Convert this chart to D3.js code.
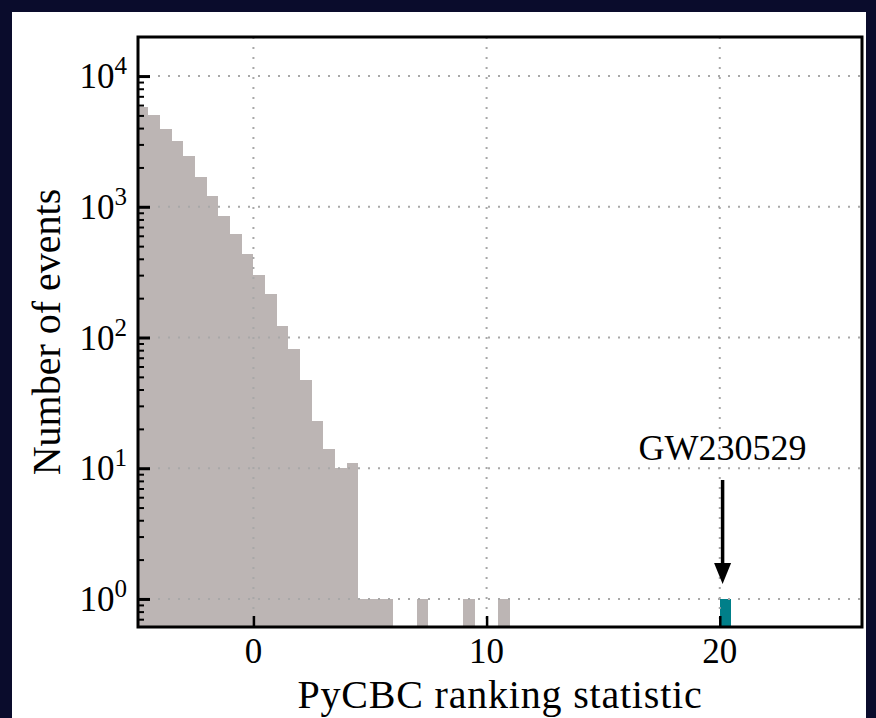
<!DOCTYPE html>
<html>
  <head>
    <meta charset='utf-8'>
    <style>
      body { margin: 0; background: #0a0c2c; }
      svg { display: block; }
      text { font-family: "Liberation Serif", "DejaVu Serif", serif; fill: #000; }
    </style>
  </head>
  <body>
    <div id="chart"></div>
    <script src="https://cdn.jsdelivr.net/npm/d3@7"></script>
    <script type="text/javascript">

      // --------------------------- data --------------------------
      // histogram of background events, bins of 0.5 starting at -5
      var binStart = -5,
          binWidth = 0.5;
      var backgroundCounts = [5800, 5030, 3930, 3190, 2440, 1690, 1210, 850, 619, 435,
                              301, 215, 122, 82, 47, 23, 14, 10, 11, 1,
                              1, 1, 0, 0, 1, 0, 0, 0, 1, 0,
                              0, 1];
      // the candidate event
      var candidateBins = [20];
      var candidateCounts = [1];
      var eventName = "GW230529";

      var xTicks = [0, 10, 20];
      var yExponents = [0, 1, 2, 3, 4];
      var xLabel = "PyCBC ranking statistic",
          yLabel = "Number of events";

      // --------------------------- layout --------------------------
      var W = 876, H = 718;
      var frame = {left: 138, top: 37, right: 862, bottom: 627};

      var x = d3.scaleLinear().domain([-4.95, 26.1]).range([frame.left, frame.right]);
      var y = d3.scaleLog().domain([0.61, 19900]).range([frame.bottom, frame.top]);

      var svg = d3.select("#chart").append("svg")
        .attr("width", W)
        .attr("height", H);

      // white panel
      svg.append("rect")
        .attr("x", 12).attr("y", 12)
        .attr("width", 854).attr("height", H - 12)
        .attr("fill", "#fff");

      svg.append("clipPath").attr("id", "plotclip")
        .append("rect")
        .attr("x", frame.left).attr("y", frame.top)
        .attr("width", frame.right - frame.left)
        .attr("height", frame.bottom - frame.top);

      var plot = svg.append("g").attr("clip-path", "url(#plotclip)");

      var bkg = backgroundCounts.map(function(c, i) {
        return {x0: binStart + i * binWidth, x1: binStart + (i + 1) * binWidth, n: c};
      }).filter(function(d) { return d.n > 0; });

      plot.selectAll(".bkg")
        .data(bkg).enter()
        .append("rect")
        .attr("class", "bkg")
        .attr("x", function(d) { return x(d.x0); })
        .attr("width", function(d) { return x(d.x1) - x(d.x0); })
        .attr("y", function(d) { return y(d.n); })
        .attr("height", function(d) { return frame.bottom - y(d.n); })
        .attr("fill", "#bcb5b4")
        .attr("shape-rendering", "crispEdges");

      var cand = candidateBins.map(function(b, i) {
        return {x0: b, x1: b + binWidth, n: candidateCounts[i]};
      });

      plot.selectAll(".cand")
        .data(cand).enter()
        .append("rect")
        .attr("class", "cand")
        .attr("x", function(d) { return x(d.x0); })
        .attr("width", function(d) { return x(d.x1) - x(d.x0); })
        .attr("y", function(d) { return y(d.n); })
        .attr("height", function(d) { return frame.bottom - y(d.n); })
        .attr("fill", "#007f89")
        .attr("shape-rendering", "crispEdges");

      // grid (dotted, on top of bars)
      var yMajor = yExponents.map(function(e) { return Math.pow(10, e); });

      plot.selectAll(".gx")
        .data(xTicks).enter()
        .append("line")
        .attr("x1", function(d) { return x(d); })
        .attr("x2", function(d) { return x(d); })
        .attr("y1", frame.top).attr("y2", frame.bottom)
        .attr("stroke", "#a8a8a8")
        .attr("stroke-width", 2)
        .attr("stroke-dasharray", "2,8");

      plot.selectAll(".gy")
        .data(yMajor).enter()
        .append("line")
        .attr("x1", frame.left).attr("x2", frame.right)
        .attr("y1", function(d) { return y(d); })
        .attr("y2", function(d) { return y(d); })
        .attr("stroke", "#a8a8a8")
        .attr("stroke-width", 2)
        .attr("stroke-dasharray", "2,8");

      // axes (ticks inside)
      var xAxis = d3.axisBottom(x).tickValues(xTicks).tickFormat("")
        .tickSizeInner(-11).tickSizeOuter(0);
      svg.append("g")
        .attr("transform", "translate(0," + frame.bottom + ")")
        .call(xAxis)
        .call(function(g) {
          g.select(".domain").remove();
          g.selectAll(".tick line").attr("stroke", "#000").attr("stroke-width", 2.5);
        });

      var yMinor = [];
      for (var e = -1; e <= 4; e++) {
        for (var k = 2; k <= 9; k++) {
          var v = k * Math.pow(10, e);
          if (v >= y.domain()[0] && v <= y.domain()[1]) yMinor.push(v);
        }
      }

      svg.append("g")
        .attr("transform", "translate(" + frame.left + ",0)")
        .call(d3.axisLeft(y).tickValues(yMinor).tickFormat("").tickSizeInner(-6).tickSizeOuter(0))
        .call(function(g) {
          g.select(".domain").remove();
          g.selectAll(".tick line").attr("stroke", "#000").attr("stroke-width", 2);
        });

      svg.append("g")
        .attr("transform", "translate(" + frame.left + ",0)")
        .call(d3.axisLeft(y).tickValues(yMajor).tickFormat("").tickSizeInner(-12).tickSizeOuter(0))
        .call(function(g) {
          g.select(".domain").remove();
          g.selectAll(".tick line").attr("stroke", "#000").attr("stroke-width", 3);
        });

      // frame
      svg.append("rect")
        .attr("x", frame.left).attr("y", frame.top)
        .attr("width", frame.right - frame.left)
        .attr("height", frame.bottom - frame.top)
        .attr("fill", "none")
        .attr("stroke", "#000")
        .attr("stroke-width", 3);

      // tick labels
      svg.selectAll(".xtl")
        .data(xTicks).enter()
        .append("text")
        .attr("x", function(d) { return x(d); })
        .attr("y", 663)
        .attr("text-anchor", "middle")
        .attr("font-size", 35)
        .text(function(d) { return d; });

      var ytl = svg.selectAll(".ytl")
        .data(yExponents).enter()
        .append("text")
        .attr("x", 127)
        .attr("y", function(d) { return y(Math.pow(10, d)) + 12; })
        .attr("text-anchor", "end")
        .attr("font-size", 35);
      ytl.append("tspan").text("10");
      ytl.append("tspan")
        .attr("dy", -14)
        .attr("font-size", 25)
        .text(function(d) { return d; });

      // axis labels
      svg.append("text")
        .attr("x", (frame.left + frame.right) / 2)
        .attr("y", 708)
        .attr("text-anchor", "middle")
        .attr("font-size", 40)
        .attr("letter-spacing", 0.8)
        .text(xLabel);

      svg.append("text")
        .attr("transform", "translate(60," + (frame.top + frame.bottom) / 2 + ") rotate(-90)")
        .attr("text-anchor", "middle")
        .attr("font-size", 40)
        .text(yLabel);

      // annotation arrow for the candidate
      var ax = x(candidateBins[0] + binWidth / 2) - 3;
      svg.append("text")
        .attr("x", ax)
        .attr("y", 460)
        .attr("text-anchor", "middle")
        .attr("font-size", 36)
        .text(eventName);

      svg.append("line")
        .attr("x1", ax).attr("x2", ax)
        .attr("y1", 480).attr("y2", 565)
        .attr("stroke", "#000")
        .attr("stroke-width", 3.5);

      svg.append("path")
        .attr("d", "M" + (ax - 8.5) + ",563 L" + (ax + 8.5) + ",563 L" + ax + ",584 Z")
        .attr("fill", "#000");

    </script>
  </body>
</html>
